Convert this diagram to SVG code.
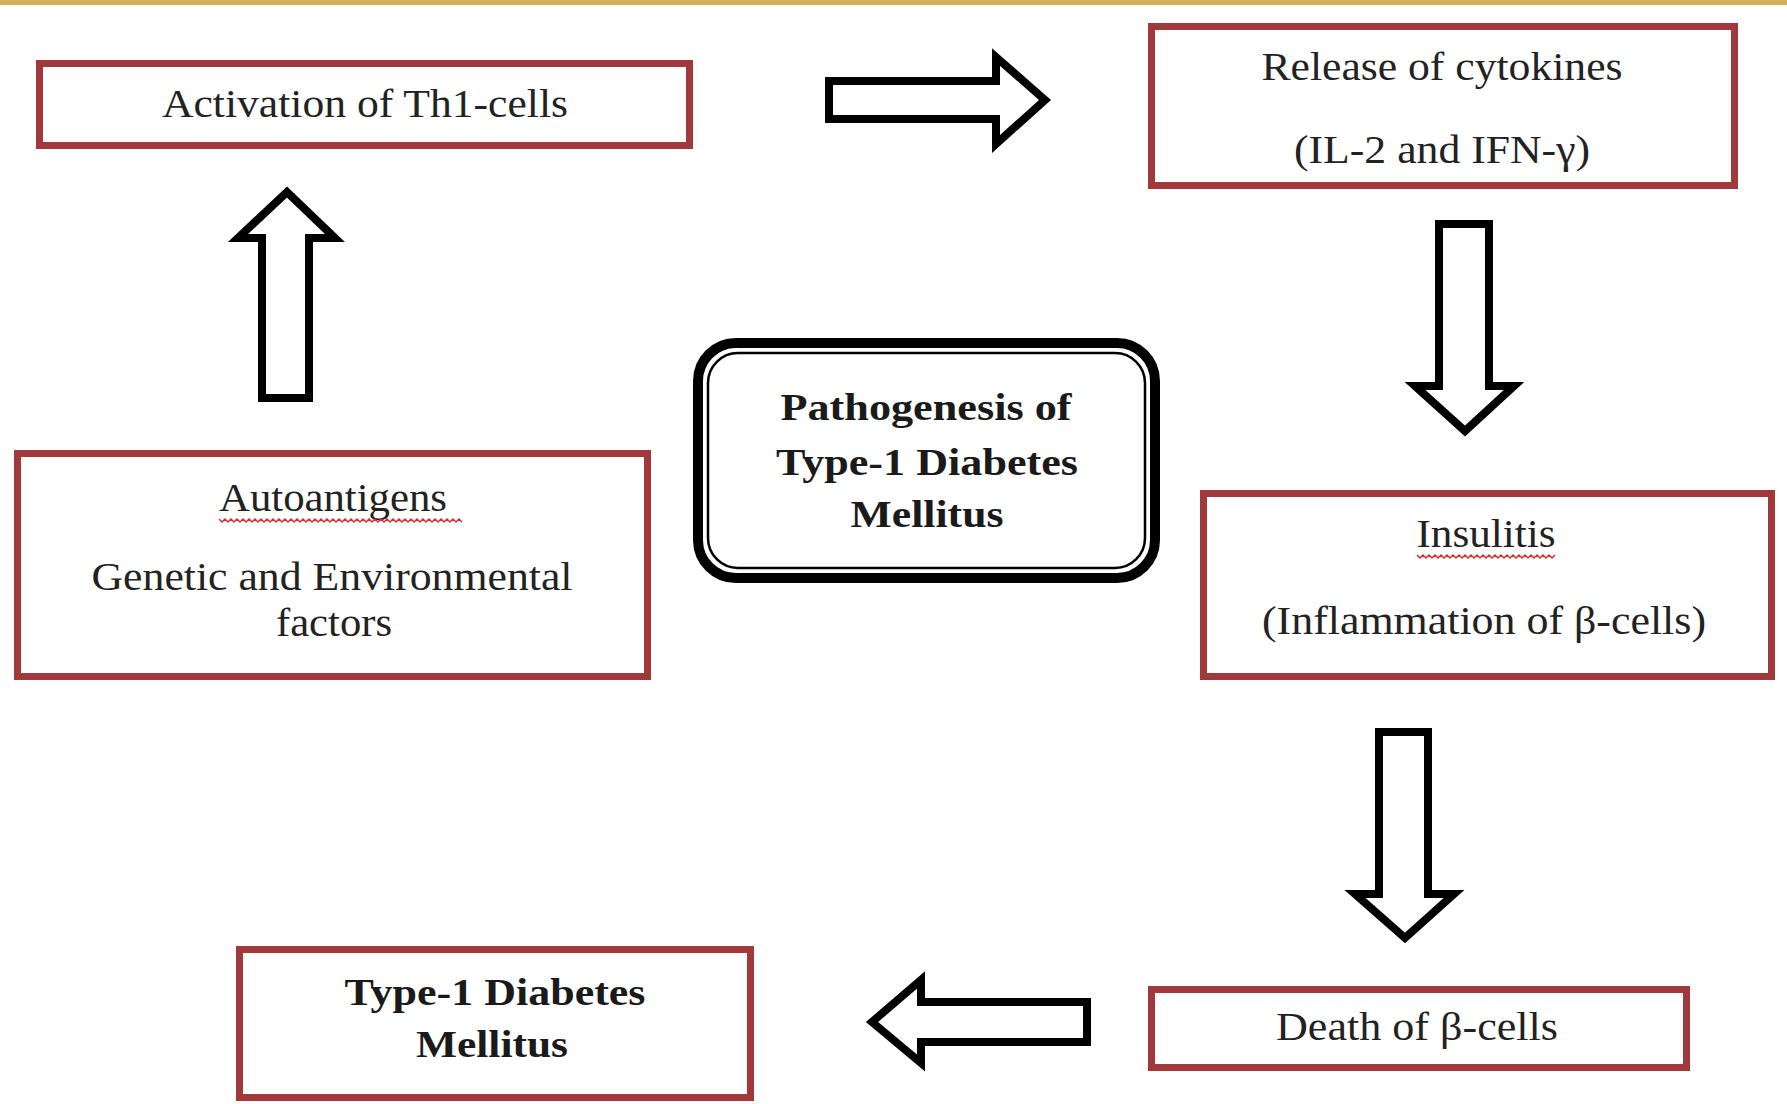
<svg xmlns="http://www.w3.org/2000/svg" width="1787" height="1104" viewBox="0 0 1787 1104">
<style>
.box{fill:#fff;stroke:#A0383C;stroke-width:7}
.arr{fill:#fff;stroke:#000;stroke-width:8;stroke-linejoin:miter}
.t{font-family:"Liberation Serif","Times New Roman",serif;font-size:40px;fill:#222;text-anchor:middle}
.b{font-family:"Liberation Serif","Times New Roman",serif;font-size:38px;font-weight:bold;fill:#1a1a1a;text-anchor:middle}
.sq{fill:none;stroke:#D03030;stroke-width:1.5}
</style>
<rect x="0" y="0" width="1787" height="1104" fill="#fff"/>
<rect x="0" y="0" width="1787" height="5" fill="#D4AF5A"/>

<g id="connectors">
<polygon class="arr" points="829,81 996,81 996,57 1045,100 996,144 996,119 829,119"/>
<polygon class="arr" points="1439,224 1489,224 1489,386 1514,386 1465,431 1415,386 1439,386"/>
<polygon class="arr" points="1379,732 1428,732 1428,894 1454,894 1405,938 1355,894 1379,894"/>
<polygon class="arr" points="1087,1002 1087,1042 921,1042 921,1063 872,1022 921,980 921,1002"/>
<polygon class="arr" points="262,398 309,398 309,238 335,238 287,192 238,238 262,238"/>
</g>

<g id="activation">
<rect class="box" x="39.5" y="63.5" width="650" height="82"/>
<text class="t" x="365" y="117" textLength="406" lengthAdjust="spacingAndGlyphs">Activation of Th1-cells</text>
</g>

<g id="cytokines">
<rect class="box" x="1151.5" y="26.5" width="583" height="159"/>
<text class="t" x="1442" y="80" textLength="361" lengthAdjust="spacingAndGlyphs">Release  of cytokines</text>
<text class="t" x="1442" y="163" textLength="296" lengthAdjust="spacingAndGlyphs">(IL-2 and IFN-γ)</text>
</g>

<g id="autoantigens">
<rect class="box" x="17.5" y="453.5" width="630" height="223"/>
<text class="t" x="333" y="511" textLength="228" lengthAdjust="spacingAndGlyphs">Autoantigens</text>
<path class="sq" d="M219,519 l3,3 l3,-3 l3,3 l3,-3 l3,3 l3,-3 l3,3 l3,-3 l3,3 l3,-3 l3,3 l3,-3 l3,3 l3,-3 l3,3 l3,-3 l3,3 l3,-3 l3,3 l3,-3 l3,3 l3,-3 l3,3 l3,-3 l3,3 l3,-3 l3,3 l3,-3 l3,3 l3,-3 l3,3 l3,-3 l3,3 l3,-3 l3,3 l3,-3 l3,3 l3,-3 l3,3 l3,-3 l3,3 l3,-3 l3,3 l3,-3 l3,3 l3,-3 l3,3 l3,-3 l3,3 l3,-3 l3,3 l3,-3 l3,3 l3,-3 l3,3 l3,-3 l3,3 l3,-3 l3,3 l3,-3 l3,3 l3,-3 l3,3 l3,-3 l3,3 l3,-3 l3,3 l3,-3 l3,3 l3,-3 l3,3 l3,-3 l3,3 l3,-3 l3,3 l3,-3 l3,3 l3,-3 l3,3 l3,-3 l3,3"/>
<text class="t" x="332" y="590" textLength="481" lengthAdjust="spacingAndGlyphs">Genetic  and Environmental</text>
<text class="t" x="334" y="636" textLength="116" lengthAdjust="spacingAndGlyphs">factors</text>
</g>

<g id="center">
<rect x="698" y="343" width="457" height="235" rx="38" fill="#fff" stroke="#000" stroke-width="10"/>
<rect x="708" y="353" width="437" height="215" rx="30" fill="none" stroke="#000" stroke-width="2.5"/>
<text class="b" x="926" y="420" textLength="291" lengthAdjust="spacingAndGlyphs">Pathogenesis of</text>
<text class="b" x="927" y="475" textLength="302" lengthAdjust="spacingAndGlyphs">Type-1 Diabetes</text>
<text class="b" x="927" y="527" textLength="153" lengthAdjust="spacingAndGlyphs">Mellitus</text>
</g>

<g id="insulitis">
<rect class="box" x="1203.5" y="493.5" width="568" height="183"/>
<text class="t" x="1486" y="547" textLength="139" lengthAdjust="spacingAndGlyphs">Insulitis</text>
<path class="sq" d="M1417,555 l3,3 l3,-3 l3,3 l3,-3 l3,3 l3,-3 l3,3 l3,-3 l3,3 l3,-3 l3,3 l3,-3 l3,3 l3,-3 l3,3 l3,-3 l3,3 l3,-3 l3,3 l3,-3 l3,3 l3,-3 l3,3 l3,-3 l3,3 l3,-3 l3,3 l3,-3 l3,3 l3,-3 l3,3 l3,-3 l3,3 l3,-3 l3,3 l3,-3 l3,3 l3,-3 l3,3 l3,-3 l3,3 l3,-3 l3,3 l3,-3 l3,3 l3,-3"/>
<text class="t" x="1484" y="634" textLength="444" lengthAdjust="spacingAndGlyphs">(Inflammation of β-cells)</text>
</g>

<g id="death">
<rect class="box" x="1151.5" y="989.5" width="535" height="78"/>
<text class="t" x="1417" y="1040" textLength="282" lengthAdjust="spacingAndGlyphs">Death of β-cells</text>
</g>

<g id="t1dm">
<rect class="box" x="239.5" y="949.5" width="511" height="148"/>
<text class="b" x="495" y="1005" textLength="301" lengthAdjust="spacingAndGlyphs">Type-1  Diabetes</text>
<text class="b" x="492" y="1057" textLength="152" lengthAdjust="spacingAndGlyphs">Mellitus</text>
</g>
</svg>
